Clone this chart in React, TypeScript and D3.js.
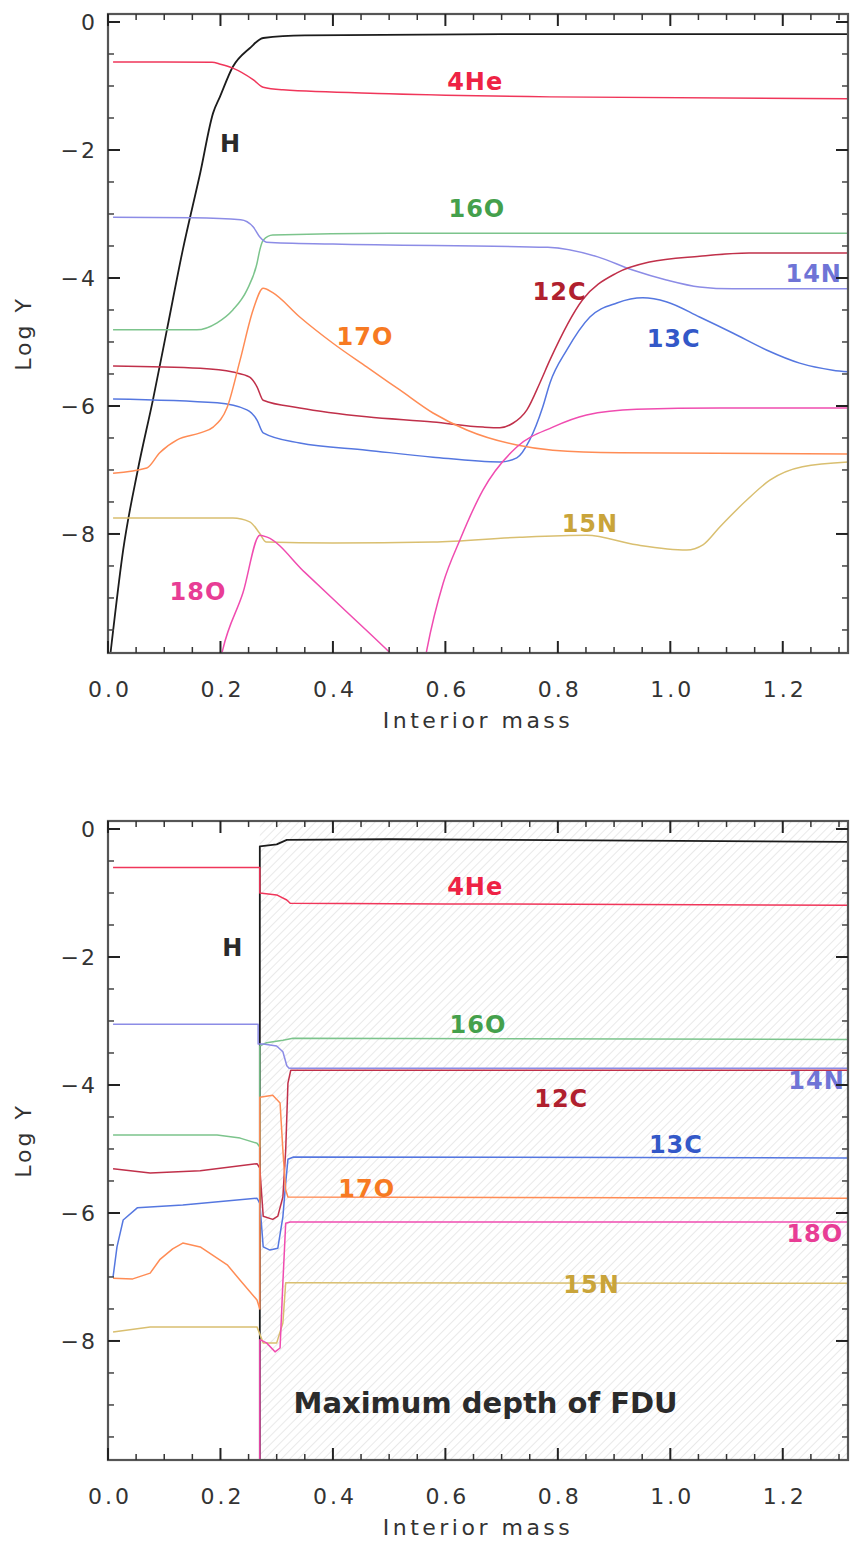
import React from "react"
import * as d3 from "d3"

// x: interior mass, y: log of abundance
const xMajorTicks = [0, 0.2, 0.4, 0.6, 0.8, 1.0, 1.2]
const yMajorTicks = [0, -2, -4, -6, -8]

// upper panel
const topH = [[0, -10.2], [0.0066, -9.7], [0.027, -8.25], [0.053, -7.0], [0.08, -5.9], [0.105, -4.8], [0.133, -3.56], [0.164, -2.36], [0.187, -1.42], [0.199, -1.17], [0.222, -0.7], [0.252, -0.41], [0.276, -0.25], [0.35, -0.21], [0.7, -0.19], [1.32, -0.19]]
const topHe4 = [[0.009, -0.625], [0.1, -0.625], [0.185, -0.63], [0.2, -0.66], [0.222, -0.72], [0.258, -0.9], [0.276, -1.02], [0.311, -1.06], [0.5, -1.12], [0.786, -1.17], [1.32, -1.2]]
const topO16 = [[0.009, -4.81], [0.1, -4.81], [0.158, -4.81], [0.194, -4.7], [0.222, -4.5], [0.247, -4.19], [0.265, -3.77], [0.27, -3.56], [0.276, -3.41], [0.293, -3.33], [0.5, -3.3], [1.32, -3.3]]
const topN14 = [[0.009, -3.05], [0.15, -3.06], [0.236, -3.09], [0.258, -3.2], [0.27, -3.36], [0.282, -3.44], [0.4, -3.47], [0.782, -3.52], [0.871, -3.67], [0.933, -3.875], [0.993, -4.03], [1.052, -4.14], [1.111, -4.17], [1.32, -4.17]]
const topC12 = [[0.009, -5.375], [0.164, -5.41], [0.222, -5.47], [0.252, -5.55], [0.265, -5.7], [0.276, -5.91], [0.341, -6.03], [0.46, -6.17], [0.578, -6.25], [0.667, -6.33], [0.697, -6.34], [0.72, -6.27], [0.745, -6.06], [0.768, -5.64], [0.786, -5.28], [0.844, -4.34], [0.905, -3.92], [0.963, -3.75], [1.052, -3.66], [1.14, -3.61], [1.32, -3.61]]
const topC13 = [[0.009, -5.89], [0.194, -5.95], [0.247, -6.06], [0.265, -6.22], [0.276, -6.42], [0.341, -6.58], [0.46, -6.69], [0.578, -6.8], [0.697, -6.875], [0.727, -6.81], [0.75, -6.53], [0.773, -6.02], [0.786, -5.64], [0.816, -5.125], [0.857, -4.61], [0.905, -4.39], [0.951, -4.31], [0.994, -4.375], [1.052, -4.61], [1.111, -4.86], [1.171, -5.125], [1.23, -5.33], [1.289, -5.44], [1.32, -5.47]]
const topO17 = [[0.009, -7.05], [0.069, -6.97], [0.092, -6.73], [0.123, -6.53], [0.164, -6.42], [0.187, -6.33], [0.212, -6.02], [0.235, -5.28], [0.258, -4.5], [0.276, -4.16], [0.293, -4.23], [0.341, -4.61], [0.4, -5.02], [0.46, -5.39], [0.519, -5.75], [0.578, -6.11], [0.638, -6.375], [0.727, -6.61], [0.791, -6.69], [0.91, -6.73], [1.32, -6.75]]
const topN15 = [[0.009, -7.75], [0.222, -7.75], [0.252, -7.81], [0.269, -7.98], [0.281, -8.125], [0.4, -8.14], [0.578, -8.125], [0.732, -8.05], [0.851, -8.02], [0.94, -8.17], [1.029, -8.25], [1.058, -8.17], [1.088, -7.89], [1.136, -7.47], [1.177, -7.16], [1.235, -6.95], [1.32, -6.875]]
const topO18 = [[0.19, -10.4], [0.204, -9.81], [0.24, -8.92], [0.27, -8.02], [0.283, -8.05], [0.35, -8.6], [0.42, -9.18], [0.496, -9.81], [0.51, -9.93], [0.555, -10.4], [0.567, -9.81], [0.596, -8.77], [0.626, -8.09], [0.667, -7.31], [0.727, -6.64], [0.791, -6.33], [0.851, -6.14], [0.94, -6.05], [1.088, -6.03], [1.32, -6.03]]

// lower panel: after first dredge-up
const fduDepth = 0.27
const botH = [[0.27, -10.5], [0.27, -0.27], [0.3, -0.24], [0.318, -0.17], [0.5, -0.16], [1.32, -0.2]]
const botHe4 = [[0.009, -0.6], [0.27, -0.6], [0.27, -1.0], [0.3, -1.03], [0.318, -1.11], [0.324, -1.16], [0.6, -1.17], [1.32, -1.19]]
const botN14 = [[0.009, -3.05], [0.267, -3.05], [0.267, -3.36], [0.276, -3.36], [0.3, -3.39], [0.311, -3.48], [0.318, -3.7], [0.322, -3.74], [1.32, -3.74]]
const botO16 = [[0.009, -4.78], [0.194, -4.78], [0.235, -4.83], [0.265, -4.91], [0.27, -4.97], [0.27, -3.39], [0.282, -3.34], [0.311, -3.3], [0.329, -3.27], [1.32, -3.29]]
const botC12 = [[0.009, -5.31], [0.075, -5.375], [0.164, -5.34], [0.265, -5.23], [0.27, -5.3], [0.276, -6.05], [0.293, -6.1], [0.302, -6.05], [0.311, -5.75], [0.316, -5.02], [0.32, -3.97], [0.325, -3.77], [1.32, -3.77]]
const botC13 = [[0.009, -7.0], [0.016, -6.53], [0.027, -6.11], [0.052, -5.92], [0.133, -5.875], [0.265, -5.77], [0.27, -5.85], [0.276, -6.53], [0.288, -6.58], [0.302, -6.55], [0.311, -6.06], [0.316, -5.53], [0.32, -5.16], [0.33, -5.125], [1.32, -5.14]]
const botO17 = [[0.009, -7.02], [0.044, -7.03], [0.075, -6.94], [0.092, -6.73], [0.115, -6.56], [0.133, -6.47], [0.164, -6.53], [0.212, -6.81], [0.235, -7.05], [0.265, -7.36], [0.27, -7.5], [0.27, -4.19], [0.293, -4.16], [0.306, -4.28], [0.311, -5.02], [0.316, -5.64], [0.32, -5.75], [1.32, -5.77]]
const botO18 = [[0.27, -10.5], [0.27, -7.98], [0.282, -8.03], [0.297, -8.17], [0.306, -8.11], [0.311, -7.09], [0.316, -6.16], [0.324, -6.14], [1.32, -6.14]]
const botN15 = [[0.009, -7.86], [0.075, -7.78], [0.265, -7.78], [0.276, -8.03], [0.3, -8.03], [0.311, -7.72], [0.316, -7.09], [0.324, -7.09], [1.32, -7.1]]

const species = ["H", "4He", "16O", "14N", "12C", "13C", "17O", "15N", "18O"]
const lineColors = ["#1c1c1c", "#f0365a", "#7cc48c", "#8c8ce6", "#c0304a", "#5577e0", "#ff8c55", "#d9bf70", "#f04cb0"]
const labelColors = ["#2a2a2a", "#ee2244", "#44a04c", "#6f74d6", "#b0202e", "#3358c8", "#f77a22", "#c9a43a", "#e83d95"]

const topSeries = [topH, topHe4, topO16, topN14, topC12, topC13, topO17, topN15, topO18]
const botSeries = [botH, botHe4, botO16, botN14, botC12, botC13, botO17, botN15, botO18]

// label anchor points (data coords) per species
const topLabels = [[0.218, -2.03], [0.653, -1.06], [0.656, -3.05], [1.255, -4.07], [0.803, -4.34], [1.006, -5.08], [0.457, -5.05], [0.857, -7.97], [0.16, -9.03]]
const botLabels = [[0.222, -1.98], [0.653, -1.03], [0.658, -3.19], [1.26, -4.07], [0.806, -4.35], [1.01, -5.06], [0.46, -5.75], [0.86, -7.25], [1.257, -6.45]]

const W = 851
const H = 1543
const xScale = d3.scaleLinear().domain([0, 1.316]).range([108, 848])
const yDomain = [0.125, -9.86]
const PH = 639

const Panel = ({ top, series, labels, hatch, id }) => {
  const y = d3.scaleLinear().domain(yDomain).range([top, top + PH])
  const x = xScale
  const [x0, x1] = x.range()
  const bottom = top + PH
  const line = d3
    .line()
    .x((d) => x(d[0]))
    .y((d) => y(d[1]))
    .curve(hatch ? d3.curveLinear : d3.curveMonotoneX)

  const xMinor = d3.range(0, 1.316, 0.05).filter((v) => !xMajorTicks.some((m) => Math.abs(m - v) < 1e-6))
  const yMinor = d3.range(0, -9.86, -0.5).filter((v) => !yMajorTicks.some((m) => Math.abs(m - v) < 1e-6))
  const axisColor = "#555"
  const tickFont = { fontFamily: "DejaVu Sans, sans-serif", fontSize: 22, fill: "#333", letterSpacing: 3 }

  return (
    <g>
      <defs>
        <clipPath id={`clip-${id}`}>
          <rect x={x0} y={top} width={x1 - x0} height={PH} />
        </clipPath>
      </defs>
      {hatch && (
        <rect
          x={x(fduDepth)}
          y={top}
          width={x1 - x(fduDepth)}
          height={PH}
          fill="url(#hatch)"
        />
      )}
      <g clipPath={`url(#clip-${id})`}>
        {series.map((s, i) => (
          <path
            key={species[i]}
            d={line(s)}
            fill="none"
            stroke={lineColors[i]}
            strokeWidth={i === 0 ? 1.8 : 1.5}
            strokeLinejoin="round"
          />
        ))}
      </g>
      {labels.map((p, i) => (
        <text
          key={species[i]}
          x={x(p[0])}
          y={y(p[1])}
          textAnchor="middle"
          fontFamily="DejaVu Sans, sans-serif"
          fontWeight="bold"
          fontSize={24}
          letterSpacing={1}
          fill={labelColors[i]}
        >
          {species[i]}
        </text>
      ))}
      {hatch && (
        <text
          x={x(0.33)}
          y={y(-9.12)}
          fontFamily="DejaVu Sans, sans-serif"
          fontWeight="bold"
          fontSize={29}
          fill="#2b2b2b"
        >
          Maximum depth of FDU
        </text>
      )}
      <rect x={x0} y={top} width={x1 - x0} height={PH} fill="none" stroke={axisColor} strokeWidth={2.2} />
      {xMajorTicks.map((v) => (
        <g key={`xm${v}`} stroke="#222" strokeWidth={2}>
          <line x1={x(v)} x2={x(v)} y1={bottom} y2={bottom - 12} />
          <line x1={x(v)} x2={x(v)} y1={top} y2={top + 12} />
        </g>
      ))}
      {xMinor.map((v) => (
        <g key={`xn${v}`} stroke="#333" strokeWidth={1.5}>
          <line x1={x(v)} x2={x(v)} y1={bottom} y2={bottom - 6} />
          <line x1={x(v)} x2={x(v)} y1={top} y2={top + 6} />
        </g>
      ))}
      {yMajorTicks.map((v) => (
        <g key={`ym${v}`} stroke="#222" strokeWidth={2}>
          <line x1={x0} x2={x0 + 12} y1={y(v)} y2={y(v)} />
          <line x1={x1} x2={x1 - 12} y1={y(v)} y2={y(v)} />
        </g>
      ))}
      {yMinor.map((v) => (
        <g key={`yn${v}`} stroke="#444" strokeWidth={1.5}>
          <line x1={x0} x2={x0 + 6} y1={y(v)} y2={y(v)} />
          <line x1={x1} x2={x1 - 6} y1={y(v)} y2={y(v)} />
        </g>
      ))}
      {xMajorTicks.map((v) => (
        <text key={`xl${v}`} x={x(v) + 2} y={bottom + 44} textAnchor="middle" {...tickFont}>
          {d3.format(".1f")(v)}
        </text>
      ))}
      {yMajorTicks.map((v) => (
        <text key={`yl${v}`} x={97} y={y(v) + 8} textAnchor="end" {...tickFont} letterSpacing={2}>
          {v === 0 ? "0" : "\u2212" + Math.abs(v)}
        </text>
      ))}
      <text x={478} y={bottom + 75} textAnchor="middle" {...tickFont} letterSpacing={3.5}>
        Interior mass
      </text>
      <text
        transform={`translate(31,${(top + bottom) / 2}) rotate(-90)`}
        textAnchor="middle"
        {...tickFont}
        letterSpacing={3}
      >
        Log Y
      </text>
    </g>
  )
}

export default function App() {
  return (
    <div style={{ position: "absolute", left: 0, top: 0, background: "#fff" }}>
      <svg width={W} height={H} style={{ display: "block" }}>
        <defs>
          <pattern id="hatch" patternUnits="userSpaceOnUse" width={6} height={6} patternTransform="rotate(45)">
            <line x1={0} y1={0} x2={0} y2={6} stroke="#cfcfcf" strokeWidth={0.9} />
          </pattern>
        </defs>
        <rect width={W} height={H} fill="#fff" />
        <Panel id="top" top={14} series={topSeries} labels={topLabels} hatch={false} />
        <Panel id="bot" top={821} series={botSeries} labels={botLabels} hatch={true} />
      </svg>
    </div>
  )
}
